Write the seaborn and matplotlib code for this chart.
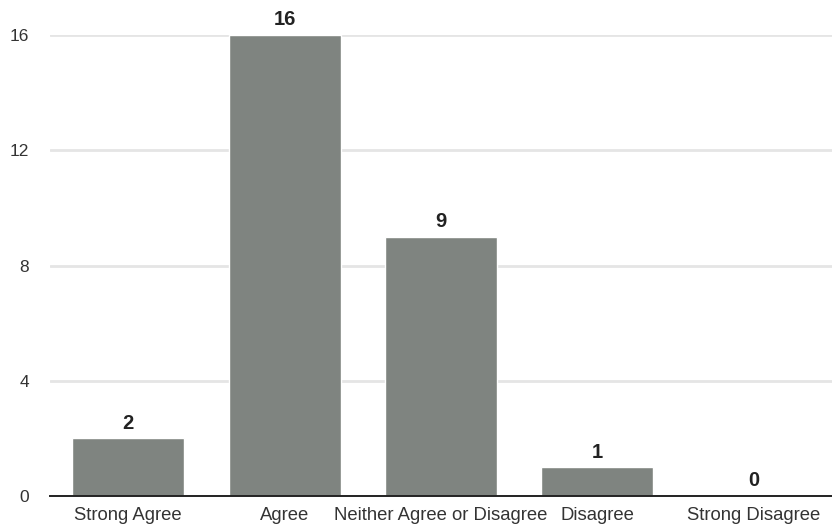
import matplotlib
matplotlib.use("Agg")
import matplotlib.pyplot as plt
import seaborn as sns
import pandas as pd

categories = ["Strong Agree", "Agree", "Neither Agree or Disagree", "Disagree", "Strong Disagree"]
counts = [2, 16, 9, 1, 0]
y_ticks = [0, 4, 8, 12, 16]

sns.set_theme(style="white")
plt.rcParams["font.family"] = ["Liberation Sans", "DejaVu Sans"]

df = pd.DataFrame({"response": categories, "count": counts})

fig = plt.figure(figsize=(8.32, 5.31), dpi=100)
ax = fig.add_axes([50 / 832, 35 / 531, 782 / 832, 461 / 531])

sns.barplot(data=df, x="response", y="count", color="#7f8480", saturation=1,
            width=0.715, ax=ax, zorder=3)

ax.set_ylim(0, 16)
ax.set_xlim(-0.5, len(categories) - 0.5)
ax.set_yticks(y_ticks)
ax.set_yticklabels([str(t) for t in y_ticks])
ax.yaxis.grid(True, color="#e5e5e5", linewidth=2, zorder=0)
ax.xaxis.grid(False)
ax.set_xlabel("")
ax.set_ylabel("")

for side in ("top", "right", "left"):
    ax.spines[side].set_visible(False)
ax.spines["bottom"].set_color("#222222")
ax.spines["bottom"].set_linewidth(1.4)
ax.spines["bottom"].set_zorder(4)

ax.tick_params(axis="y", length=0, pad=15, labelsize=12.5, labelcolor="#333333")
ax.tick_params(axis="x", length=0, pad=8, labelsize=13.3, labelcolor="#333333")

for i, v in enumerate(counts):
    ax.annotate(str(v), (i, v), xytext=(0, 4), textcoords="offset points",
                ha="center", va="bottom", fontsize=14.5, fontweight="bold",
                color="#222222", annotation_clip=False)

fig.savefig("out.png", dpi=100)
